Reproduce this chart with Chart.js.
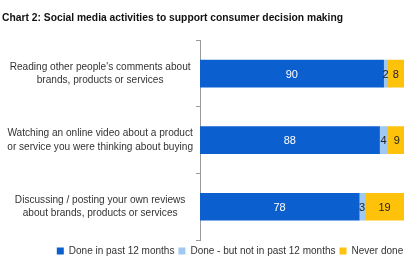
<!DOCTYPE html>
<html lang="en">
<head>
    <meta charset="UTF-8">
    <title>Chart 2</title>
    <script src="https://cdn.jsdelivr.net/npm/chart.js"></script>
    <style>
        html, body { margin: 0; padding: 0; background: #fff; }
        .chartBox { width: 420px; height: 270px; }
    </style>
</head>
<body>
    <div class="chartBox">
        <canvas id="barChart" width="420" height="270"></canvas>
    </div>
    <script>
        // Chart values
        var activities = [
            ["Reading other people's comments about", "brands, products or services"],
            ["Watching an online video about a product", "or service you were thinking about buying"],
            ["Discussing / posting your own reviews", "about brands, products or services"]
        ];
        var doneRecently = [90, 88, 78];
        var doneNotRecently = [2, 4, 3];
        var neverDone = [8, 9, 19];
        var seriesNames = ["Done in past 12 months", "Done - but not in past 12 months", "Never done"];

        var fontFamily = "'Liberation Sans', Arial, sans-serif";

        // Draw the numbers inside each segment
        var valueLabels = {
            id: 'valueLabels',
            afterDatasetsDraw: function (chart) {
                var ctx = chart.ctx;
                ctx.save();
                ctx.font = '11px ' + fontFamily;
                ctx.textAlign = 'center';
                ctx.textBaseline = 'middle';
                chart.data.datasets.forEach(function (ds, i) {
                    var meta = chart.getDatasetMeta(i);
                    meta.data.forEach(function (bar, j) {
                        var x = (bar.x + bar.base) / 2;
                        ctx.fillStyle = i === 0 ? '#ffffff' : '#222222';
                        ctx.fillText(String(ds.data[j]), x, bar.y + 1);
                    });
                });
                ctx.restore();
            }
        };

        // Nudge the legend to where it sits in the original
        var legendShift = {
            id: 'legendShift',
            afterLayout: function (chart) {
                var lg = chart.legend;
                lg.left += 27;
                lg.right += 27;
                lg.top += 2;
                lg.bottom += 2;
            }
        };

        var ctx = document.getElementById('barChart').getContext('2d');
        var chart = new Chart(ctx, {
            type: 'bar',
            data: {
                labels: activities,
                datasets: [
                    { label: seriesNames[0], data: doneRecently, backgroundColor: '#0b5fcf' },
                    { label: seriesNames[1], data: doneNotRecently, backgroundColor: '#a0c8f0' },
                    { label: seriesNames[2], data: neverDone, backgroundColor: '#ffc20a' }
                ]
            },
            options: {
                indexAxis: 'y',
                responsive: false,
                animation: false,
                barThickness: 27,
                layout: { padding: { left: 2, right: 16, top: 0, bottom: 6 } },
                scales: {
                    x: {
                        stacked: true,
                        min: 0,
                        max: 100,
                        display: false
                    },
                    y: {
                        stacked: true,
                        afterFit: function (axis) { axis.width = 198; },
                        grid: {
                            drawOnChartArea: false,
                            tickLength: 4,
                            color: '#9a9a9a'
                        },
                        border: { color: '#9a9a9a' },
                        ticks: {
                            crossAlign: 'center',
                            color: '#333333',
                            font: { family: fontFamily, size: 10.1, lineHeight: 1.35 },
                            padding: 3
                        }
                    }
                },
                plugins: {
                    title: {
                        display: true,
                        text: 'Chart 2: Social media activities to support consumer decision making',
                        align: 'start',
                        color: '#111111',
                        font: { family: fontFamily, size: 10.3, weight: 'bold' },
                        padding: { top: 12, bottom: 16 }
                    },
                    legend: {
                        position: 'bottom',
                        labels: {
                            boxWidth: 7,
                            boxHeight: 7,
                            padding: 4,
                            color: '#333333',
                            font: { family: fontFamily, size: 10 }
                        }
                    },
                    tooltip: { enabled: false }
                }
            },
            plugins: [valueLabels, legendShift]
        });
    </script>
</body>
</html>
